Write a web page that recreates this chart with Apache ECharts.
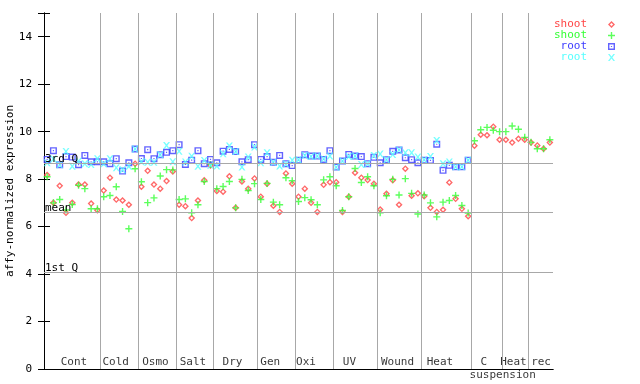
<!DOCTYPE html>
<html><head><meta charset="utf-8">
<script src="https://cdn.jsdelivr.net/npm/echarts@6/dist/echarts.min.js"></script>
<style>html,body{margin:0;padding:0;background:#fff}#c{width:640px;height:384px}</style>
</head><body><div id="c"></div>
<script>
const groupNames = ['Cont','Cold','Osmo','Salt','Dry','Gen','Oxi','UV','Wound','Heat','C','Heat','rec'];
const groupLabelPos = [4.77, 11.4, 17.74, 23.7, 30.0, 36.0, 41.7, 48.6, 56.25, 63.0, 70.0, 74.7, 79.1];
const groupSeparators = [9,15,21,27,34,40,46,53,60,68,73,77];
const subLabel = 'suspension';
const subLabelPos = 73.0;
const quartiles = [['3rd Q', 8.69], ['mean', 6.62], ['1st Q', 4.09]];
const yTicks = [0,2,4,6,8,10,12,14];

const shootRed = [8.17,7.0,7.72,6.58,7.0,7.77,7.77,6.97,6.69,
 7.52,8.06,7.14,7.1,6.92,8.65,
 7.68,8.35,7.77,7.6,7.92,8.32,
 6.92,6.86,6.36,7.1,7.95,8.57,
 7.5,7.47,8.12,6.79,7.9,7.6,8.03,
 7.26,7.81,6.88,6.62,8.24,7.81,
 7.26,7.6,7.0,6.62,7.76,7.87,
 7.87,6.62,7.26,8.27,8.06,7.96,7.81,
 6.72,7.38,7.95,6.92,8.44,7.3,7.4,
 7.28,6.79,6.62,6.71,7.86,7.17,6.75,6.44,
 9.41,9.87,9.85,10.21,9.66,
 9.66,9.54,9.7,9.66,
 9.54,9.42,9.28,9.54];
const shootGreen = [8.1,7.0,7.14,6.7,6.93,7.74,7.6,6.75,6.75,
 7.26,7.31,7.68,6.64,5.91,8.44,
 7.89,7.01,7.21,8.13,8.4,8.39,
 7.14,7.17,6.58,6.92,7.9,8.62,
 7.6,7.69,7.9,6.79,7.99,7.52,7.81,
 7.14,7.82,7.03,6.92,8.06,7.93,
 7.06,7.22,7.13,6.92,7.97,8.1,
 7.72,6.68,7.26,8.45,7.86,8.1,7.72,
 6.58,7.3,7.99,7.33,8.02,7.4,6.53,
 7.33,7.0,6.41,7.03,7.1,7.31,6.89,6.57,
 9.62,10.08,10.18,10.06,10.0,
 10.0,10.24,10.1,9.76,
 9.55,9.28,9.28,9.66];
const rootBlue = [8.83,9.2,8.61,8.95,8.93,8.61,9.0,8.73,8.73,
 8.73,8.65,8.86,8.34,8.69,9.27,
 8.87,9.24,8.86,9.03,9.13,9.2,
 9.45,8.62,8.8,9.2,8.65,8.83,
 8.69,9.18,9.25,9.16,8.73,8.82,9.45,
 8.83,8.95,8.71,9.0,8.65,8.57,
 8.8,9.03,8.97,8.97,8.83,9.2,
 8.51,8.76,9.04,8.97,8.95,8.65,8.92,
 8.69,8.82,9.17,9.23,8.9,8.82,8.69,
 8.8,8.79,9.47,8.37,8.58,8.52,8.52,8.8];
const rootCyan = [8.69,8.85,8.61,9.16,8.54,8.75,8.65,8.62,8.86,
 8.65,8.86,8.48,8.4,8.54,9.27,
 8.73,8.71,8.71,9.03,9.42,8.73,
 9.18,8.72,8.96,8.54,8.78,8.59,
 8.55,9.07,9.4,9.16,8.51,8.93,9.35,
 8.69,9.11,8.71,8.55,8.64,8.8,
 8.82,9.0,8.95,8.97,8.85,8.97,
 8.5,8.76,8.95,8.97,8.62,8.65,9.0,
 9.06,8.82,9.04,9.23,9.11,9.11,8.93,
 8.82,8.95,9.63,8.65,8.72,8.52,8.52,8.8];

const MONO = 'DejaVu Sans Mono';
const cRed = '#ff4444', cGreen = '#33ff33', cBlue = '#3c3cff', cCyan = '#55ffff';
const symDiamond = 'path://M3.5,0 L7,3.5 L3.5,7 L0,3.5 Z M3.5,1.9 L1.9,3.5 L3.5,5.1 L5.1,3.5 Z';
const symPlus = 'path://M2.8,0 L4.2,0 L4.2,2.8 L7,2.8 L7,4.2 L4.2,4.2 L4.2,7 L2.8,7 L2.8,4.2 L0,4.2 L0,2.8 L2.8,2.8 Z';
const symSquare = 'path://M0,0 L7,0 L7,7 L0,7 Z M1.4,1.4 L1.4,5.6 L5.6,5.6 L5.6,1.4 Z M2.9,2.9 L4.1,2.9 L4.1,4.1 L2.9,4.1 Z';
const symX = 'path://M0,0 L1.6,0 L3.5,2.4 L5.4,0 L7,0 L4.4,3.5 L7,7 L5.4,7 L3.5,4.6 L1.6,7 L0,7 L2.6,3.5 Z';

function pts(arr){ return arr.map((v,i)=>[i+0.5, v]); }

const chart = echarts.init(document.getElementById('c'));
chart.setOption({
  animation: false,
  backgroundColor: '#fff',
  grid: {left: 44, right: 87, top: 13, bottom: 15, containLabel: false, outerBoundsMode: 'none'},
  legend: {
    orient: 'vertical', right: 20, top: 14, align: 'right',
    itemWidth: 7, itemHeight: 7, itemGap: 0,
    formatter: n => n.trim().padStart(5, ' '),
    textStyle: {fontFamily: MONO, fontSize: 11, lineHeight: 11, padding: [0, 16, 0, 0]},
    data: [
      {name: 'shoot', textStyle: {color: cRed}},
      {name: 'shoot ', textStyle: {color: cGreen}},
      {name: 'root', textStyle: {color: cBlue}},
      {name: 'root ', textStyle: {color: cCyan}}
    ]
  },
  xAxis: [
    {type: 'value', min: 0, max: 81, position: 'bottom',
     axisLine: {show: true, lineStyle: {color: '#000', width: 1}},
     axisTick: {show: false}, axisLabel: {show: false}, splitLine: {show: false}},
    {type: 'value', min: 0, max: 81, position: 'top',
     axisLine: {show: true, lineStyle: {color: '#000', width: 1}},
     axisTick: {show: false}, axisLabel: {show: false}, splitLine: {show: false}}
  ],
  yAxis: [
    {type: 'value', min: 0, max: 15, interval: 2, position: 'left',
     name: 'affy-normalized expression', nameLocation: 'middle', nameGap: 28,
     nameMoveOverlap: false,
     nameTextStyle: {fontFamily: MONO, fontSize: 11, color: '#000'},
     axisLine: {show: true, lineStyle: {color: '#000', width: 1}},
     axisTick: {show: true, inside: true, length: 6, lineStyle: {color: '#000'}},
     axisLabel: {fontFamily: MONO, fontSize: 11, color: '#000', margin: 12,
       formatter: v => yTicks.indexOf(v) >= 0 ? String(v) : ''},
     splitLine: {show: false}},
    {type: 'value', min: 0, max: 15, interval: 2, position: 'right',
     axisLine: {show: true, lineStyle: {color: '#000', width: 1}},
     axisTick: {show: true, inside: true, length: 6, lineStyle: {color: '#000'}},
     axisLabel: {show: false}, splitLine: {show: false}}
  ],
  series: [
    {name: 'guides', type: 'scatter', symbolSize: 0, silent: true, z: 1,
     data: groupNames.map((n, i) => ({value: [groupLabelPos[i], 0], name: n})),
     label: {show: true, position: 'top', distance: 1, formatter: p => p.name,
       fontFamily: MONO, fontSize: 11, color: '#000'},
     markLine: {silent: true, symbol: 'none', animation: false,
       lineStyle: {color: '#a8a8a8', width: 1, type: 'solid'},
       data: groupSeparators.map(x => ({xAxis: x, label: {show: false}}))
         .concat(quartiles.map(q => ({yAxis: q[1], name: q[0],
           label: {show: true, position: 'insideStartTop', formatter: q[0], distance: [1, -2],
             fontFamily: MONO, fontSize: 11, color: '#000'}})))}
    },
    {name: 'sub', type: 'scatter', symbolSize: 0, silent: true, z: 1,
     data: [{value: [subLabelPos, 0], name: subLabel}],
     label: {show: true, position: 'bottom', distance: 1, formatter: p => p.name,
       fontFamily: MONO, fontSize: 11, color: '#000'}},
    {name: 'shoot', type: 'scatter', symbol: symDiamond, symbolSize: 7, z: 3,
     itemStyle: {color: cRed}, data: pts(shootRed)},
    {name: 'shoot ', type: 'scatter', symbol: symPlus, symbolSize: 7, z: 3,
     itemStyle: {color: cGreen}, data: pts(shootGreen)},
    {name: 'root', type: 'scatter', symbol: symSquare, symbolSize: 7, z: 3,
     itemStyle: {color: cBlue}, data: pts(rootBlue)},
    {name: 'root ', type: 'scatter', symbol: symX, symbolSize: 7, z: 3,
     itemStyle: {color: cCyan}, data: pts(rootCyan)}
  ]
});
</script></body></html>
